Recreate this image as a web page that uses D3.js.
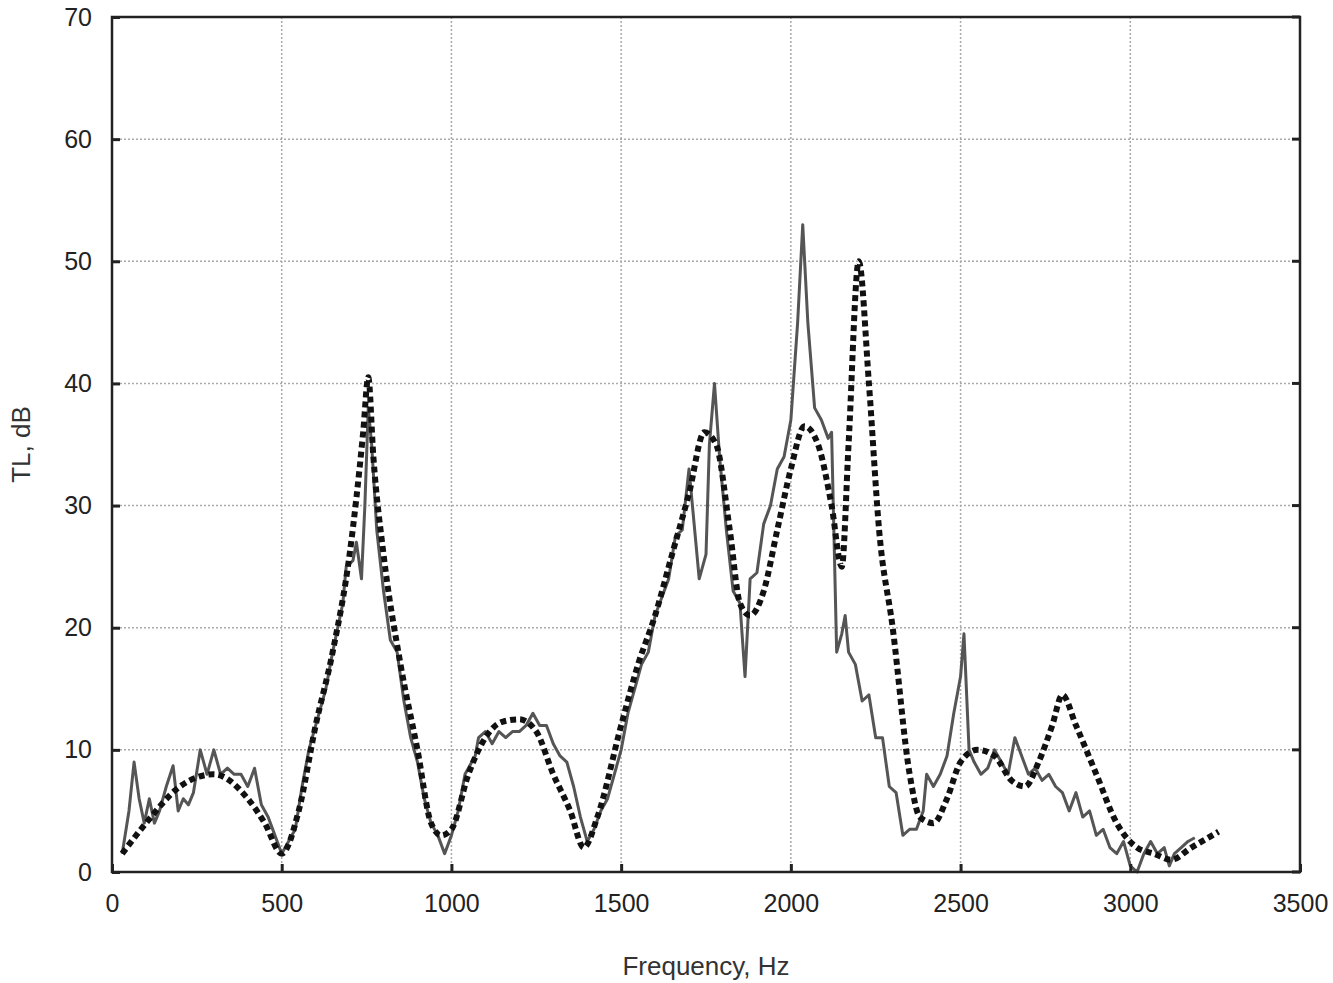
<!DOCTYPE html>
<html>
<head>
<meta charset="utf-8">
<script src="https://cdn.jsdelivr.net/npm/d3@7"></script>
<style>
  body { margin: 0; background: #fff; }
  text { font-family: "Liberation Sans", Arial, sans-serif; }
</style>
</head>
<body>
<div id="chart"></div>
<script>
(function () {
    'use strict';

    var xTicks = [0, 500, 1000, 1500, 2000, 2500, 3000, 3500];
    var yTicks = [0, 10, 20, 30, 40, 50, 60, 70];

    // measured TL (solid grey)
    var measuredFreq = [30, 50, 65, 80, 95, 110, 125, 140, 160, 180, 195, 210, 225, 240, 260, 280, 300, 320, 340, 360, 380, 400, 420, 440, 460, 480, 500, 520, 540, 560, 580, 600, 630, 650, 680, 690, 710, 720, 735, 745, 755, 765, 780, 800, 820, 840, 860, 880, 900, 920, 940, 960, 980, 1000, 1020, 1040, 1060, 1070, 1080, 1100, 1120, 1140, 1160, 1180, 1200, 1220, 1240, 1260, 1280, 1300, 1320, 1340, 1360, 1380, 1400, 1420, 1440, 1460, 1480, 1500, 1520, 1540, 1560, 1580, 1600, 1620, 1640, 1660, 1680, 1700, 1710, 1730, 1750, 1760, 1775, 1790, 1810, 1830, 1850, 1865, 1880, 1900, 1920, 1940, 1960, 1980, 2000, 2020, 2035, 2050, 2070, 2090, 2110, 2120, 2135, 2150, 2160, 2170, 2190, 2210, 2230, 2250, 2270, 2290, 2310, 2330, 2350, 2370, 2390, 2400, 2420, 2440, 2460, 2480, 2500, 2510, 2525, 2540, 2560, 2580, 2600, 2620, 2640, 2660, 2680, 2700, 2720, 2740, 2760, 2780, 2800, 2820, 2840, 2860, 2880, 2900, 2920, 2940, 2960, 2980, 3000, 3020, 3040, 3060, 3080, 3100, 3115, 3130, 3150, 3170, 3190];
    var measuredTL = [1.5, 5, 9, 6, 4, 6, 4, 5, 7, 8.7, 5, 6, 5.5, 6.5, 10, 8, 10, 8, 8.5, 8, 8, 7, 8.5, 5.5, 4.5, 3, 1.5, 2.5, 3.5, 7, 10, 12, 15, 18, 22, 25, 25.5, 27, 24, 30, 38, 35, 28, 23, 19, 18, 14, 11, 9, 6, 4, 3, 1.5, 3, 5, 8, 9, 9.5, 11, 11.5, 10.5, 11.5, 11, 11.5, 11.5, 12, 13, 12, 12, 10.5, 9.5, 9, 7, 4.5, 2.5, 3.5, 5, 6, 8, 10, 13, 15, 17, 18, 21, 22.5, 24, 27.5, 28, 33, 30, 24, 26, 35, 40, 34, 28, 23, 22, 16, 24, 24.5, 28.5, 30, 33, 34, 37, 45, 53, 45, 38, 37, 35.5, 36, 18, 19.5, 21, 18, 17, 14, 14.5, 11, 11, 7, 6.5, 3, 3.5, 3.5, 5, 8, 7, 8, 9.5, 13, 16, 19.5, 10, 9, 8, 8.5, 10, 9, 8, 11, 9.5, 8, 8.5, 7.5, 8, 7, 6.5, 5, 6.5, 4.5, 5, 3, 3.5, 2, 1.5, 2.5, 0.5, 0, 1.5, 2.5, 1.5, 2, 0.5, 1.5, 2, 2.5, 2.8];

    // predicted TL (dotted black)
    var predictedFreq = [30, 100, 200, 300, 400, 450, 500, 550, 600, 650, 700, 740, 755, 770, 800, 850, 900, 940, 970, 1000, 1050, 1100, 1150, 1200, 1250, 1300, 1350, 1390, 1430, 1500, 1550, 1600, 1650, 1700, 1745, 1780, 1820, 1850, 1880, 1920, 1960, 2000, 2040, 2080, 2120, 2150, 2170, 2200, 2230, 2260, 2300, 2350, 2380, 2420, 2460, 2500, 2550, 2600, 2650, 2690, 2730, 2770, 2800, 2840, 2900, 2960, 3020, 3070, 3120, 3180, 3260];
    var predictedTL = [1.5, 4, 7, 8, 6, 4, 1.5, 5, 12, 18, 26, 36, 40.5, 34, 26, 17, 10, 4, 3, 3.5, 8, 11, 12.3, 12.5, 11.5, 8, 5, 2, 4.5, 12, 17, 21, 26, 31, 36, 35, 28, 22, 21, 23, 28, 33, 36.5, 35, 30, 25, 35, 50, 40, 28, 20, 8, 4.5, 4, 6, 9, 10, 9.5, 7.5, 7, 9, 12, 14.5, 12, 8, 4, 2, 1.5, 1, 2, 3.3];

    var margin = { left: 112, top: 17, right: 33, bottom: 111 };
    var width = 1333, height = 983;
    var w = width - margin.left - margin.right;
    var h = height - margin.top - margin.bottom;

    var x = d3.scaleLinear().domain([0, 3500]).range([0, w]);
    var y = d3.scaleLinear().domain([0, 70]).range([h, 0]);

    var svg = d3.select('#chart').append('svg')
        .attr('width', width)
        .attr('height', height);

    var g = svg.append('g')
        .attr('transform', 'translate(' + margin.left + ',' + margin.top + ')');

    // grid
    g.append('g').selectAll('line')
        .data(xTicks.slice(1, -1))
        .enter().append('line')
        .attr('x1', function (d) { return x(d); })
        .attr('x2', function (d) { return x(d); })
        .attr('y1', 0).attr('y2', h)
        .style('stroke', '#aaa').style('stroke-width', 1.5)
        .style('stroke-dasharray', '2,2');
    g.append('g').selectAll('line')
        .data(yTicks.slice(1, -1))
        .enter().append('line')
        .attr('y1', function (d) { return y(d); })
        .attr('y2', function (d) { return y(d); })
        .attr('x1', 0).attr('x2', w)
        .style('stroke', '#aaa').style('stroke-width', 1.5)
        .style('stroke-dasharray', '2,2');

    var line = d3.line()
        .x(function (d) { return x(d[0]); })
        .y(function (d) { return y(d[1]); });

    g.append('path')
        .datum(d3.zip(measuredFreq, measuredTL))
        .attr('d', line)
        .style('fill', 'none')
        .style('stroke', '#555')
        .style('stroke-width', 3)
        .style('stroke-linejoin', 'round');

    var smooth = d3.line()
        .curve(d3.curveMonotoneX)
        .x(function (d) { return x(d[0]); })
        .y(function (d) { return y(d[1]); });

    g.append('path')
        .datum(d3.zip(predictedFreq, predictedTL))
        .attr('d', smooth)
        .style('fill', 'none')
        .style('stroke', '#111')
        .style('stroke-width', 6)
        .style('stroke-dasharray', '6,4');

    // frame
    g.append('rect')
        .attr('width', w).attr('height', h)
        .style('fill', 'none').style('stroke', '#222').style('stroke-width', 2.5);

    var fmt = d3.format('d');
    var xAxis = g.append('g')
        .attr('transform', 'translate(0,' + h + ')')
        .call(d3.axisBottom(x).tickValues(xTicks).tickFormat(fmt).tickSize(-8).tickPadding(22));
    var yAxis = g.append('g')
        .call(d3.axisLeft(y).tickValues(yTicks).tickFormat(fmt).tickSize(-8).tickPadding(20));
    [xAxis, yAxis].forEach(function (a) {
        a.select('.domain').remove();
        a.selectAll('line').style('stroke', '#222').style('stroke-width', 3);
        a.selectAll('text').style('font-size', '25px').style('fill', '#222');
    });
    // right-side ticks
    g.append('g').selectAll('line')
        .data(yTicks)
        .enter().append('line')
        .attr('x1', w).attr('x2', w - 8)
        .attr('y1', function (d) { return y(d); })
        .attr('y2', function (d) { return y(d); })
        .style('stroke', '#222').style('stroke-width', 3);

    svg.append('text')
        .attr('x', margin.left + w / 2).attr('y', 975)
        .attr('text-anchor', 'middle')
        .style('font-size', '26px').style('fill', '#333')
        .text('Frequency, Hz');
    svg.append('text')
        .attr('transform', 'translate(30,' + (margin.top + h / 2) + ') rotate(-90)')
        .attr('text-anchor', 'middle')
        .style('font-size', '26px').style('fill', '#333')
        .text('TL, dB');
}());
</script>
</body>
</html>
